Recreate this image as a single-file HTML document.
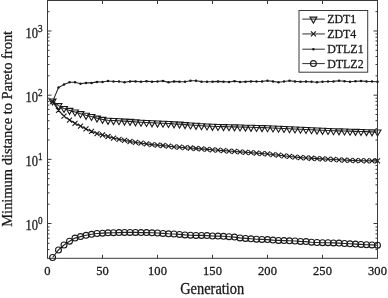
<!DOCTYPE html>
<html><head><meta charset="utf-8"><title>Minimum distance to Pareto front</title>
<style>html,body{margin:0;padding:0;background:#fff}svg{display:block}</style></head>
<body>
<svg width="388" height="298" viewBox="0 0 388 298">
<rect width="388" height="298" fill="#fff"/>
<g fill="none" stroke="#3a3a3a" stroke-width="1">
<rect x="47.5" y="0.5" width="330.0" height="257.8"/>
<path d="M47.5 249.54h2M377.5 249.54h-2 M47.5 243.32h2M377.5 243.32h-2 M47.5 238.24h2M377.5 238.24h-2 M47.5 233.94h2M377.5 233.94h-2 M47.5 230.22h2M377.5 230.22h-2 M47.5 226.94h2M377.5 226.94h-2 M47.5 223.50h4M377.5 223.50h-4 M47.5 204.18h2M377.5 204.18h-2 M47.5 192.88h2M377.5 192.88h-2 M47.5 184.87h2M377.5 184.87h-2 M47.5 178.65h2M377.5 178.65h-2 M47.5 173.57h2M377.5 173.57h-2 M47.5 169.27h2M377.5 169.27h-2 M47.5 165.55h2M377.5 165.55h-2 M47.5 162.27h2M377.5 162.27h-2 M47.5 159.33h4M377.5 159.33h-4 M47.5 140.01h2M377.5 140.01h-2 M47.5 128.71h2M377.5 128.71h-2 M47.5 120.70h2M377.5 120.70h-2 M47.5 114.48h2M377.5 114.48h-2 M47.5 109.40h2M377.5 109.40h-2 M47.5 105.10h2M377.5 105.10h-2 M47.5 101.38h2M377.5 101.38h-2 M47.5 98.10h2M377.5 98.10h-2 M47.5 95.16h4M377.5 95.16h-4 M47.5 75.84h2M377.5 75.84h-2 M47.5 64.54h2M377.5 64.54h-2 M47.5 56.53h2M377.5 56.53h-2 M47.5 50.31h2M377.5 50.31h-2 M47.5 45.23h2M377.5 45.23h-2 M47.5 40.93h2M377.5 40.93h-2 M47.5 37.21h2M377.5 37.21h-2 M47.5 33.93h2M377.5 33.93h-2 M47.5 30.99h4M377.5 30.99h-4 M47.5 11.67h2M377.5 11.67h-2 M102.50 258.3v-3.5M102.50 0.5v3.5 M157.50 258.3v-3.5M157.50 0.5v3.5 M212.50 258.3v-3.5M212.50 0.5v3.5 M267.50 258.3v-3.5M267.50 0.5v3.5 M322.50 258.3v-3.5M322.50 0.5v3.5"/>
</g>
<g fill="none" stroke="#1a1a1a" stroke-width="1.1">
<polyline points="52.60,101.00 58.50,105.65 64.00,108.50 69.50,110.40 75.00,111.93 80.50,113.67 86.00,115.30 91.50,116.50 97.00,118.10 102.50,119.40 108.00,120.30 113.50,120.57 119.00,120.73 124.50,121.10 130.00,121.40 135.50,121.90 141.00,122.20 146.50,122.50 152.00,122.80 157.50,123.05 163.00,123.22 168.50,123.45 174.00,123.88 179.50,124.10 185.00,124.60 190.50,125.00 196.00,125.30 201.50,125.70 207.00,126.00 212.50,126.30 218.00,126.44 223.50,126.59 229.00,126.73 234.50,126.88 240.00,127.02 245.50,127.17 251.00,127.31 256.50,127.46 262.00,127.61 267.50,127.75 273.00,128.00 278.50,128.26 284.00,128.51 289.50,128.77 295.00,129.03 300.50,129.28 306.00,129.53 311.50,129.79 317.00,130.04 322.50,130.30 328.00,130.51 333.50,130.68 339.00,130.84 344.50,131.01 350.00,131.17 355.50,131.34 361.00,131.50 366.50,131.67 372.00,131.83 377.50,132.00" stroke="#262626" stroke-width="1.1"/>
<polyline points="52.60,101.60 58.50,110.30 64.00,116.20 69.50,120.10 75.00,123.30 80.50,126.10 86.00,128.90 91.50,131.30 97.00,133.60 102.50,135.00 108.00,136.50 113.50,138.10 119.00,139.30 124.50,140.40 130.00,141.50 135.50,142.40 141.00,143.20 146.50,143.90 152.00,144.60 157.50,145.10 163.00,145.50 168.50,146.20 174.00,146.80 179.50,147.20 185.00,147.70 190.50,148.00 196.00,148.50 201.50,148.90 207.00,149.40 212.50,149.80 218.00,150.21 223.50,150.63 229.00,151.04 234.50,151.46 240.00,151.87 245.50,152.29 251.00,152.70 256.50,153.12 262.00,153.53 267.50,153.95 273.00,154.57 278.50,155.19 284.00,155.81 289.50,156.44 295.00,157.06 300.50,157.62 306.00,157.94 311.50,158.26 317.00,158.58 322.50,158.90 328.00,159.19 333.50,159.48 339.00,159.77 344.50,160.07 350.00,160.36 355.50,160.53 361.00,160.70 366.50,160.77 372.00,160.83 377.50,160.90" stroke="#262626" stroke-width="1.1"/>
<polyline points="52.60,101.60 58.50,87.60 64.00,84.50 69.50,82.20 75.00,82.30 80.50,83.70 86.00,82.90 91.50,82.90 97.00,81.90 102.50,81.97 108.00,81.06 113.50,81.52 119.00,81.52 124.50,82.23 130.00,81.39 135.50,81.39 141.00,81.78 146.50,81.19 152.00,81.65 157.50,81.52 163.00,80.93 168.50,82.36 174.00,81.39 179.50,81.65 185.00,81.78 190.50,80.80 196.00,80.74 201.50,81.65 207.00,81.78 212.50,81.65 218.00,81.39 223.50,81.65 229.00,81.97 234.50,81.13 240.00,81.97 245.50,81.65 251.00,81.39 256.50,81.52 262.00,81.39 267.50,80.80 273.00,81.39 278.50,82.23 284.00,81.52 289.50,80.80 295.00,81.39 300.50,81.71 306.00,81.52 311.50,81.71 317.00,82.30 322.50,81.71 328.00,81.52 333.50,81.39 339.00,80.80 344.50,81.26 350.00,81.71 355.50,81.26 361.00,80.93 366.50,81.39 372.00,81.52 377.50,81.71" stroke="#262626" stroke-width="1.1"/>
<polyline points="52.60,257.50 58.50,250.00 64.00,245.00 69.50,241.20 75.00,238.10 80.50,236.60 86.00,235.30 91.50,234.30 97.00,233.50 102.50,233.15 108.00,232.83 113.50,232.72 119.00,232.60 124.50,232.40 130.00,232.40 135.50,232.40 141.00,232.60 146.50,232.60 152.00,232.80 157.50,233.00 163.00,233.40 168.50,233.80 174.00,234.00 179.50,234.40 185.00,234.90 190.50,235.20 196.00,235.40 201.50,235.40 207.00,235.60 212.50,236.00 218.00,236.10 223.50,236.30 229.00,236.70 234.50,237.10 240.00,237.90 245.50,238.40 251.00,238.80 256.50,239.20 262.00,239.40 267.50,239.60 273.00,240.10 278.50,240.40 284.00,240.60 289.50,240.80 295.00,241.00 300.50,241.40 306.00,241.60 311.50,242.20 317.00,242.50 322.50,242.70 328.00,242.70 333.50,242.90 339.00,243.10 344.50,243.50 350.00,243.80 355.50,244.10 361.00,244.40 366.50,244.70 372.00,244.90 377.50,245.20" stroke="#262626" stroke-width="1.1"/>
<path d="M49.15 99.01h6.9L52.60 104.98Z M55.05 103.66h6.9L58.50 109.63Z M60.55 106.51h6.9L64.00 112.48Z M66.05 108.41h6.9L69.50 114.38Z M71.55 109.94h6.9L75.00 115.92Z M77.05 111.67h6.9L80.50 117.65Z M82.55 113.31h6.9L86.00 119.28Z M88.05 114.51h6.9L91.50 120.48Z M93.55 116.11h6.9L97.00 122.08Z M99.05 117.41h6.9L102.50 123.38Z M104.55 118.31h6.9L108.00 124.28Z M110.05 118.57h6.9L113.50 124.55Z M115.55 118.74h6.9L119.00 124.72Z M121.05 119.11h6.9L124.50 125.08Z M126.55 119.41h6.9L130.00 125.38Z M132.05 119.91h6.9L135.50 125.88Z M137.55 120.21h6.9L141.00 126.18Z M143.05 120.51h6.9L146.50 126.48Z M148.55 120.81h6.9L152.00 126.78Z M154.05 121.06h6.9L157.50 127.03Z M159.55 121.23h6.9L163.00 127.21Z M165.05 121.46h6.9L168.50 127.43Z M170.55 121.88h6.9L174.00 127.86Z M176.05 122.11h6.9L179.50 128.08Z M181.55 122.61h6.9L185.00 128.58Z M187.05 123.01h6.9L190.50 128.98Z M192.55 123.31h6.9L196.00 129.28Z M198.05 123.71h6.9L201.50 129.68Z M203.55 124.01h6.9L207.00 129.98Z M209.05 124.31h6.9L212.50 130.28Z M214.55 124.45h6.9L218.00 130.43Z M220.05 124.60h6.9L223.50 130.57Z M225.55 124.74h6.9L229.00 130.72Z M231.05 124.89h6.9L234.50 130.86Z M236.55 125.03h6.9L240.00 131.01Z M242.05 125.18h6.9L245.50 131.15Z M247.55 125.32h6.9L251.00 131.30Z M253.05 125.47h6.9L256.50 131.44Z M258.55 125.61h6.9L262.00 131.59Z M264.05 125.76h6.9L267.50 131.73Z M269.55 126.01h6.9L273.00 131.99Z M275.05 126.27h6.9L278.50 132.24Z M280.55 126.52h6.9L284.00 132.50Z M286.05 126.78h6.9L289.50 132.75Z M291.55 127.03h6.9L295.00 133.01Z M297.05 127.29h6.9L300.50 133.26Z M302.55 127.54h6.9L306.00 133.52Z M308.05 127.80h6.9L311.50 133.77Z M313.55 128.05h6.9L317.00 134.03Z M319.05 128.31h6.9L322.50 134.28Z M324.55 128.52h6.9L328.00 134.49Z M330.05 128.68h6.9L333.50 134.66Z M335.55 128.85h6.9L339.00 134.82Z M341.05 129.01h6.9L344.50 134.99Z M346.55 129.18h6.9L350.00 135.16Z M352.05 129.35h6.9L355.50 135.32Z M357.55 129.51h6.9L361.00 135.49Z M363.05 129.68h6.9L366.50 135.65Z M368.55 129.84h6.9L372.00 135.82Z M374.05 130.01h6.9L377.50 135.98Z"/>
<path d="M50.10 99.10l5.0 5.0M50.10 104.10l5.0 -5.0 M56.00 107.80l5.0 5.0M56.00 112.80l5.0 -5.0 M61.50 113.70l5.0 5.0M61.50 118.70l5.0 -5.0 M67.00 117.60l5.0 5.0M67.00 122.60l5.0 -5.0 M72.50 120.80l5.0 5.0M72.50 125.80l5.0 -5.0 M78.00 123.60l5.0 5.0M78.00 128.60l5.0 -5.0 M83.50 126.40l5.0 5.0M83.50 131.40l5.0 -5.0 M89.00 128.80l5.0 5.0M89.00 133.80l5.0 -5.0 M94.50 131.10l5.0 5.0M94.50 136.10l5.0 -5.0 M100.00 132.50l5.0 5.0M100.00 137.50l5.0 -5.0 M105.50 134.00l5.0 5.0M105.50 139.00l5.0 -5.0 M111.00 135.60l5.0 5.0M111.00 140.60l5.0 -5.0 M116.50 136.80l5.0 5.0M116.50 141.80l5.0 -5.0 M122.00 137.90l5.0 5.0M122.00 142.90l5.0 -5.0 M127.50 139.00l5.0 5.0M127.50 144.00l5.0 -5.0 M133.00 139.90l5.0 5.0M133.00 144.90l5.0 -5.0 M138.50 140.70l5.0 5.0M138.50 145.70l5.0 -5.0 M144.00 141.40l5.0 5.0M144.00 146.40l5.0 -5.0 M149.50 142.10l5.0 5.0M149.50 147.10l5.0 -5.0 M155.00 142.60l5.0 5.0M155.00 147.60l5.0 -5.0 M160.50 143.00l5.0 5.0M160.50 148.00l5.0 -5.0 M166.00 143.70l5.0 5.0M166.00 148.70l5.0 -5.0 M171.50 144.30l5.0 5.0M171.50 149.30l5.0 -5.0 M177.00 144.70l5.0 5.0M177.00 149.70l5.0 -5.0 M182.50 145.20l5.0 5.0M182.50 150.20l5.0 -5.0 M188.00 145.50l5.0 5.0M188.00 150.50l5.0 -5.0 M193.50 146.00l5.0 5.0M193.50 151.00l5.0 -5.0 M199.00 146.40l5.0 5.0M199.00 151.40l5.0 -5.0 M204.50 146.90l5.0 5.0M204.50 151.90l5.0 -5.0 M210.00 147.30l5.0 5.0M210.00 152.30l5.0 -5.0 M215.50 147.71l5.0 5.0M215.50 152.71l5.0 -5.0 M221.00 148.13l5.0 5.0M221.00 153.13l5.0 -5.0 M226.50 148.54l5.0 5.0M226.50 153.54l5.0 -5.0 M232.00 148.96l5.0 5.0M232.00 153.96l5.0 -5.0 M237.50 149.37l5.0 5.0M237.50 154.37l5.0 -5.0 M243.00 149.79l5.0 5.0M243.00 154.79l5.0 -5.0 M248.50 150.20l5.0 5.0M248.50 155.20l5.0 -5.0 M254.00 150.62l5.0 5.0M254.00 155.62l5.0 -5.0 M259.50 151.03l5.0 5.0M259.50 156.03l5.0 -5.0 M265.00 151.45l5.0 5.0M265.00 156.45l5.0 -5.0 M270.50 152.07l5.0 5.0M270.50 157.07l5.0 -5.0 M276.00 152.69l5.0 5.0M276.00 157.69l5.0 -5.0 M281.50 153.31l5.0 5.0M281.50 158.31l5.0 -5.0 M287.00 153.94l5.0 5.0M287.00 158.94l5.0 -5.0 M292.50 154.56l5.0 5.0M292.50 159.56l5.0 -5.0 M298.00 155.12l5.0 5.0M298.00 160.12l5.0 -5.0 M303.50 155.44l5.0 5.0M303.50 160.44l5.0 -5.0 M309.00 155.76l5.0 5.0M309.00 160.76l5.0 -5.0 M314.50 156.08l5.0 5.0M314.50 161.08l5.0 -5.0 M320.00 156.40l5.0 5.0M320.00 161.40l5.0 -5.0 M325.50 156.69l5.0 5.0M325.50 161.69l5.0 -5.0 M331.00 156.98l5.0 5.0M331.00 161.98l5.0 -5.0 M336.50 157.27l5.0 5.0M336.50 162.27l5.0 -5.0 M342.00 157.57l5.0 5.0M342.00 162.57l5.0 -5.0 M347.50 157.86l5.0 5.0M347.50 162.86l5.0 -5.0 M353.00 158.03l5.0 5.0M353.00 163.03l5.0 -5.0 M358.50 158.20l5.0 5.0M358.50 163.20l5.0 -5.0 M364.00 158.27l5.0 5.0M364.00 163.27l5.0 -5.0 M369.50 158.33l5.0 5.0M369.50 163.33l5.0 -5.0 M375.00 158.40l5.0 5.0M375.00 163.40l5.0 -5.0"/>
<circle cx="52.60" cy="257.50" r="2.95"/>
<circle cx="58.50" cy="250.00" r="2.95"/>
<circle cx="64.00" cy="245.00" r="2.95"/>
<circle cx="69.50" cy="241.20" r="2.95"/>
<circle cx="75.00" cy="238.10" r="2.95"/>
<circle cx="80.50" cy="236.60" r="2.95"/>
<circle cx="86.00" cy="235.30" r="2.95"/>
<circle cx="91.50" cy="234.30" r="2.95"/>
<circle cx="97.00" cy="233.50" r="2.95"/>
<circle cx="102.50" cy="233.15" r="2.95"/>
<circle cx="108.00" cy="232.83" r="2.95"/>
<circle cx="113.50" cy="232.72" r="2.95"/>
<circle cx="119.00" cy="232.60" r="2.95"/>
<circle cx="124.50" cy="232.40" r="2.95"/>
<circle cx="130.00" cy="232.40" r="2.95"/>
<circle cx="135.50" cy="232.40" r="2.95"/>
<circle cx="141.00" cy="232.60" r="2.95"/>
<circle cx="146.50" cy="232.60" r="2.95"/>
<circle cx="152.00" cy="232.80" r="2.95"/>
<circle cx="157.50" cy="233.00" r="2.95"/>
<circle cx="163.00" cy="233.40" r="2.95"/>
<circle cx="168.50" cy="233.80" r="2.95"/>
<circle cx="174.00" cy="234.00" r="2.95"/>
<circle cx="179.50" cy="234.40" r="2.95"/>
<circle cx="185.00" cy="234.90" r="2.95"/>
<circle cx="190.50" cy="235.20" r="2.95"/>
<circle cx="196.00" cy="235.40" r="2.95"/>
<circle cx="201.50" cy="235.40" r="2.95"/>
<circle cx="207.00" cy="235.60" r="2.95"/>
<circle cx="212.50" cy="236.00" r="2.95"/>
<circle cx="218.00" cy="236.10" r="2.95"/>
<circle cx="223.50" cy="236.30" r="2.95"/>
<circle cx="229.00" cy="236.70" r="2.95"/>
<circle cx="234.50" cy="237.10" r="2.95"/>
<circle cx="240.00" cy="237.90" r="2.95"/>
<circle cx="245.50" cy="238.40" r="2.95"/>
<circle cx="251.00" cy="238.80" r="2.95"/>
<circle cx="256.50" cy="239.20" r="2.95"/>
<circle cx="262.00" cy="239.40" r="2.95"/>
<circle cx="267.50" cy="239.60" r="2.95"/>
<circle cx="273.00" cy="240.10" r="2.95"/>
<circle cx="278.50" cy="240.40" r="2.95"/>
<circle cx="284.00" cy="240.60" r="2.95"/>
<circle cx="289.50" cy="240.80" r="2.95"/>
<circle cx="295.00" cy="241.00" r="2.95"/>
<circle cx="300.50" cy="241.40" r="2.95"/>
<circle cx="306.00" cy="241.60" r="2.95"/>
<circle cx="311.50" cy="242.20" r="2.95"/>
<circle cx="317.00" cy="242.50" r="2.95"/>
<circle cx="322.50" cy="242.70" r="2.95"/>
<circle cx="328.00" cy="242.70" r="2.95"/>
<circle cx="333.50" cy="242.90" r="2.95"/>
<circle cx="339.00" cy="243.10" r="2.95"/>
<circle cx="344.50" cy="243.50" r="2.95"/>
<circle cx="350.00" cy="243.80" r="2.95"/>
<circle cx="355.50" cy="244.10" r="2.95"/>
<circle cx="361.00" cy="244.40" r="2.95"/>
<circle cx="366.50" cy="244.70" r="2.95"/>
<circle cx="372.00" cy="244.90" r="2.95"/>
<circle cx="377.50" cy="245.20" r="2.95"/>
</g>
<g fill="#1a1a1a">
<circle cx="52.60" cy="101.60" r="1.25"/>
<circle cx="58.50" cy="87.60" r="1.25"/>
<circle cx="64.00" cy="84.50" r="1.25"/>
<circle cx="69.50" cy="82.20" r="1.25"/>
<circle cx="75.00" cy="82.30" r="1.25"/>
<circle cx="80.50" cy="83.70" r="1.25"/>
<circle cx="86.00" cy="82.90" r="1.25"/>
<circle cx="91.50" cy="82.90" r="1.25"/>
<circle cx="97.00" cy="81.90" r="1.25"/>
<circle cx="102.50" cy="81.97" r="1.25"/>
<circle cx="108.00" cy="81.06" r="1.25"/>
<circle cx="113.50" cy="81.52" r="1.25"/>
<circle cx="119.00" cy="81.52" r="1.25"/>
<circle cx="124.50" cy="82.23" r="1.25"/>
<circle cx="130.00" cy="81.39" r="1.25"/>
<circle cx="135.50" cy="81.39" r="1.25"/>
<circle cx="141.00" cy="81.78" r="1.25"/>
<circle cx="146.50" cy="81.19" r="1.25"/>
<circle cx="152.00" cy="81.65" r="1.25"/>
<circle cx="157.50" cy="81.52" r="1.25"/>
<circle cx="163.00" cy="80.93" r="1.25"/>
<circle cx="168.50" cy="82.36" r="1.25"/>
<circle cx="174.00" cy="81.39" r="1.25"/>
<circle cx="179.50" cy="81.65" r="1.25"/>
<circle cx="185.00" cy="81.78" r="1.25"/>
<circle cx="190.50" cy="80.80" r="1.25"/>
<circle cx="196.00" cy="80.74" r="1.25"/>
<circle cx="201.50" cy="81.65" r="1.25"/>
<circle cx="207.00" cy="81.78" r="1.25"/>
<circle cx="212.50" cy="81.65" r="1.25"/>
<circle cx="218.00" cy="81.39" r="1.25"/>
<circle cx="223.50" cy="81.65" r="1.25"/>
<circle cx="229.00" cy="81.97" r="1.25"/>
<circle cx="234.50" cy="81.13" r="1.25"/>
<circle cx="240.00" cy="81.97" r="1.25"/>
<circle cx="245.50" cy="81.65" r="1.25"/>
<circle cx="251.00" cy="81.39" r="1.25"/>
<circle cx="256.50" cy="81.52" r="1.25"/>
<circle cx="262.00" cy="81.39" r="1.25"/>
<circle cx="267.50" cy="80.80" r="1.25"/>
<circle cx="273.00" cy="81.39" r="1.25"/>
<circle cx="278.50" cy="82.23" r="1.25"/>
<circle cx="284.00" cy="81.52" r="1.25"/>
<circle cx="289.50" cy="80.80" r="1.25"/>
<circle cx="295.00" cy="81.39" r="1.25"/>
<circle cx="300.50" cy="81.71" r="1.25"/>
<circle cx="306.00" cy="81.52" r="1.25"/>
<circle cx="311.50" cy="81.71" r="1.25"/>
<circle cx="317.00" cy="82.30" r="1.25"/>
<circle cx="322.50" cy="81.71" r="1.25"/>
<circle cx="328.00" cy="81.52" r="1.25"/>
<circle cx="333.50" cy="81.39" r="1.25"/>
<circle cx="339.00" cy="80.80" r="1.25"/>
<circle cx="344.50" cy="81.26" r="1.25"/>
<circle cx="350.00" cy="81.71" r="1.25"/>
<circle cx="355.50" cy="81.26" r="1.25"/>
<circle cx="361.00" cy="80.93" r="1.25"/>
<circle cx="366.50" cy="81.39" r="1.25"/>
<circle cx="372.00" cy="81.52" r="1.25"/>
<circle cx="377.50" cy="81.71" r="1.25"/>
</g>
<rect x="299.0" y="10.5" width="68.69999999999999" height="61.7" fill="#fff" stroke="#3a3a3a"/>
<g fill="none" stroke="#1a1a1a" stroke-width="1.1">
<path d="M302.3 19.1H324.8" stroke="#2e2e2e" stroke-width="1"/>
<path d="M302.3 33.95H324.8" stroke="#2e2e2e" stroke-width="1"/>
<path d="M302.3 49.2H324.8" stroke="#2e2e2e" stroke-width="1"/>
<path d="M302.3 63.6H324.8" stroke="#2e2e2e" stroke-width="1"/>
<path d="M309.95 17.11h6.9L313.40 23.08Z"/>
<path d="M310.90 31.45l5.0 5.0M310.90 36.45l5.0 -5.0"/>
<circle cx="313.4" cy="63.6" r="2.95"/>
</g>
<circle cx="313.4" cy="49.2" r="1.25" fill="#1a1a1a"/>
<g font-family="'Liberation Serif', 'Times New Roman', serif" fill="#1a1a1a" stroke="#1a1a1a" stroke-width="0.3" font-size="13">
<text transform="translate(327.20 23.45) scale(0.89 1)" font-size="13.4" text-anchor="start">ZDT1</text>
<text transform="translate(327.20 38.35) scale(0.89 1)" font-size="13.4" text-anchor="start">ZDT4</text>
<text transform="translate(327.20 53.40) scale(0.89 1)" font-size="13.4" text-anchor="start">DTLZ1</text>
<text transform="translate(327.20 68.25) scale(0.89 1)" font-size="13.4" text-anchor="start">DTLZ2</text>
<text transform="translate(47.50 275.40) scale(0.93 1)" font-size="13.5" text-anchor="middle">0</text>
<text transform="translate(102.50 275.40) scale(0.93 1)" font-size="13.5" text-anchor="middle">50</text>
<text transform="translate(157.50 275.40) scale(0.93 1)" font-size="13.5" text-anchor="middle">100</text>
<text transform="translate(212.50 275.40) scale(0.93 1)" font-size="13.5" text-anchor="middle">150</text>
<text transform="translate(267.50 275.40) scale(0.93 1)" font-size="13.5" text-anchor="middle">200</text>
<text transform="translate(322.50 275.40) scale(0.93 1)" font-size="13.5" text-anchor="middle">250</text>
<text transform="translate(377.50 275.40) scale(0.93 1)" font-size="13.5" text-anchor="middle">300</text>
<text transform="translate(25.60 230.10) scale(0.92 1)" font-size="13.6" text-anchor="start">10<tspan font-size="10" dy="-5.8">0</tspan></text>
<text transform="translate(25.60 165.93) scale(0.92 1)" font-size="13.6" text-anchor="start">10<tspan font-size="10" dy="-5.8">1</tspan></text>
<text transform="translate(25.60 101.76) scale(0.92 1)" font-size="13.6" text-anchor="start">10<tspan font-size="10" dy="-5.8">2</tspan></text>
<text transform="translate(25.60 37.59) scale(0.92 1)" font-size="13.6" text-anchor="start">10<tspan font-size="10" dy="-5.8">3</tspan></text>
</g>
<g font-family="'Liberation Serif', 'Times New Roman', serif" fill="#1a1a1a" stroke="#1a1a1a" stroke-width="0.3" font-size="15">
<text transform="translate(212.20 294.00) scale(0.9 1)" font-size="16" text-anchor="middle">Generation</text>
<text transform="translate(11.9 128.8) rotate(-90) scale(0.964 0.92)" text-anchor="middle">Minimum distance to Pareto front</text>
</g>
</svg>
</body></html>
